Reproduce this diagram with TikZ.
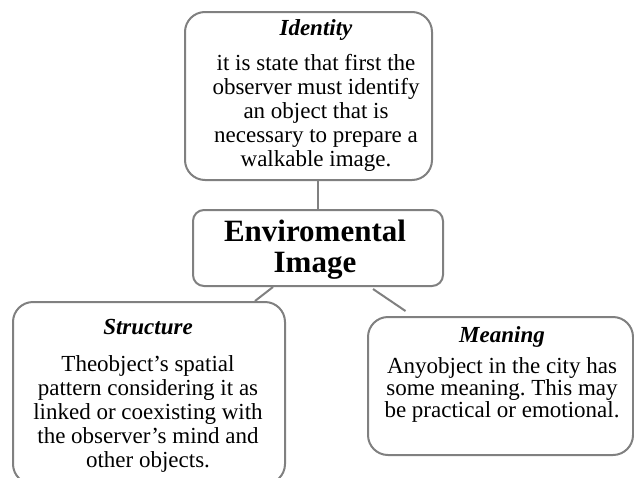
\documentclass[tikz,border=0pt]{standalone}
\usepackage{fontspec}
\setmainfont{Liberation Serif}
\usepackage{xcolor}
\usepackage{tikz}
\usetikzlibrary{calc}
\definecolor{bg}{HTML}{FFFFFF}
\definecolor{edge}{HTML}{808080}
\definecolor{ink}{HTML}{000000}
\frenchspacing
\tikzset{
  box/.style={draw=edge, line width=2pt, rounded corners=20pt, fill=bg},
  hub/.style={box, rounded corners=11pt},
  link/.style={draw=edge, line width=2pt},
  txt/.style={text=ink, align=center, inner sep=0pt, anchor=north,
    font=\fontsize{23}{24}\selectfont},
  hubtxt/.style={txt, font=\fontsize{31}{31}\selectfont\bfseries},
}

\begin{document}
\begin{tikzpicture}[x=1pt,y=-1pt]
  \useasboundingbox (0,0) rectangle (634,477);
  \begin{scope}
  \clip (0,0) rectangle (634,477);

  \node[box,minimum width=247pt,minimum height=168pt] (identity) at (308.5,96) {};
  \node[hub,minimum width=250pt,minimum height=76pt] (enviro) at (318,248) {};
  \node[box,minimum width=272pt,minimum height=182pt] (structure) at (149,393) {};
  \node[box,minimum width=265pt,minimum height=138pt] (meaning) at (500.5,386) {};

  \draw[link] (enviro.north) -- (enviro.north |- identity.south);
  \draw[link] ($(enviro.south)+(-45,0)$) -- ($(structure.north)+(106,0)$);
  \draw[link] ($(enviro.south)+(55,2)$) -- ($(meaning.north)+(-95,-5)$);

  \node[txt] (identitytxt) at (316,19) {\textbf{\textit{Identity}}\\[11pt]
    it is state that first the\\ observer must identify\\ an object that is\\
    necessary to prepare a\\ walkable image.};
  \node[hubtxt] (envirotxt) at (315,220) {Enviromental\\ Image};
  \node[txt] (structuretxt) at (148,319) {\textbf{\textit{Structure}}\\[13pt]
    Theobject’s spatial\\ pattern considering it as\\ linked or coexisting with\\
    the observer’s mind and\\ other objects.};
  \node[txt,font=\fontsize{23}{22}\selectfont] (meaningtxt) at (502,326) {\textbf{\textit{Meaning}}\\[9pt]
    Anyobject in the city has\\ some meaning. This may\\ be practical or emotional.};
  \end{scope}
\end{tikzpicture}
\end{document}
